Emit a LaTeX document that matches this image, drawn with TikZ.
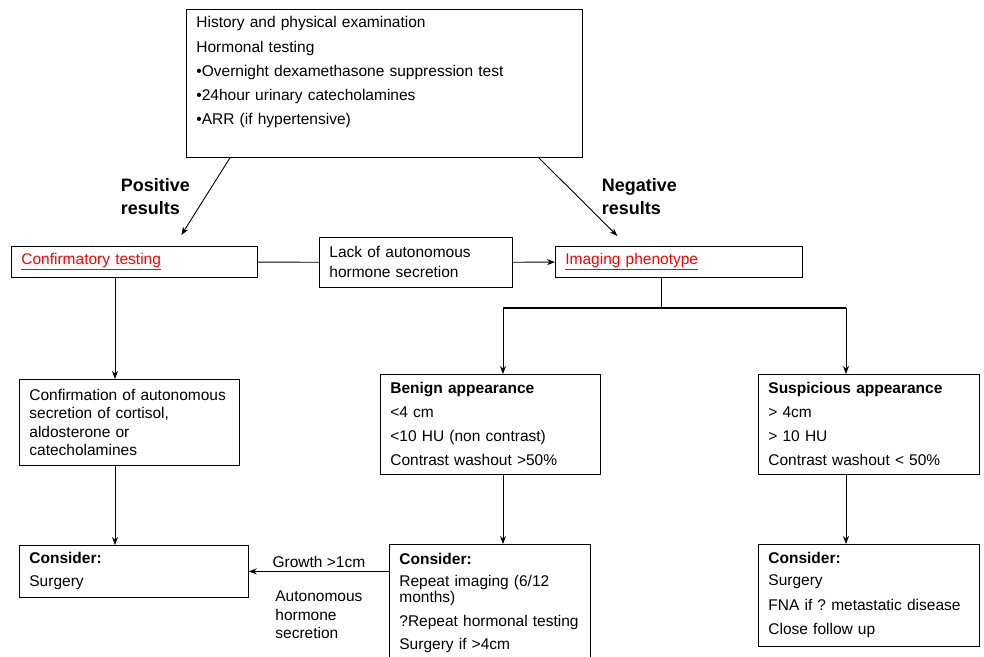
\documentclass[tikz,border=0pt]{standalone}
\usepackage{fontspec}
\setmainfont{Liberation Sans}
\usetikzlibrary{arrows.meta,positioning}

\begin{document}
\begin{tikzpicture}[x=1pt, y=-1pt,
        box/.style={rectangle, draw, line width=0.8pt, anchor=north west, align=left, inner xsep=10pt, inner ysep=2pt, font=\fontsize{15.5}{18.5}\selectfont},
        arrow/.style={->, >={Stealth[length=8pt, width=6pt]}, line width=0.9pt},
        plain/.style={line width=0.9pt},
        heavy/.style={line width=1.5pt},
        lbl/.style={font=\fontsize{15.5}{18.5}\selectfont, align=left},
        reslbl/.style={font=\fontsize{18}{23}\selectfont\bfseries, align=left}
    ]
        \useasboundingbox (0,0) rectangle (984,656);

        % Initial work-up
        \node[box, text width=376pt, minimum width=396pt, minimum height=148pt] (history) at (186,9) {History and physical examination\\[5.75pt] Hormonal testing\\[5.75pt] •Overnight dexamethasone suppression test\\[5.75pt] •24hour urinary catecholamines\\[5.75pt] •ARR (if hypertensive)\par\vspace{7pt}\hbox{}};

        % Second row
        \node[box, text width=226pt, minimum width=246pt, minimum height=31pt] (confirm) at (11,246) {\textcolor{red}{\underline{Confirmatory testing}}};
        \node[box, text width=173pt, minimum width=193pt, minimum height=50pt] (lack) at (319,237) {Lack of autonomous\\[1.5pt] hormone secretion};
        \node[box, text width=227pt, minimum width=247pt, minimum height=31pt] (imaging) at (555,246) {\textcolor{red}{\underline{Imaging phenotype}}};

        % Third row
        \node[box, text width=200pt, minimum width=220pt, minimum height=86pt] (confirmation) at (19,379) {Confirmation of autonomous\\ secretion of cortisol,\\ aldosterone or\\ catecholamines};
        \node[box, text width=200pt, minimum width=220pt, minimum height=100pt] (benign) at (380,374) {\textbf{Benign appearance}\\[5.5pt] <4 cm\\[5.5pt] <10 HU (non contrast)\\[5.5pt] Contrast washout >50\%};
        \node[box, text width=201pt, minimum width=221pt, minimum height=100pt] (suspicious) at (758,374) {\textbf{Suspicious appearance}\\[5.5pt] > 4cm\\[5.5pt] > 10 HU\\[5.5pt] Contrast washout < 50\%};

        % Bottom row
        \node[box, text width=209pt, minimum width=229pt, minimum height=52pt] (leftconsider) at (19,545) {\textbf{Consider:}\\[4.5pt] Surgery};
        \node[box, text width=181pt, minimum width=201pt, minimum height=117pt] (midconsider) at (389,544) {\textbf{Consider:}\\[3.5pt] Repeat imaging (6/12\\[-2.5pt] months)\\[5.5pt] ?Repeat hormonal testing\\[4.5pt] Surgery if >4cm};
        \node[box, text width=201pt, minimum width=221pt, minimum height=102pt] (rightconsider) at (758,544) {\textbf{Consider:}\\[3.5pt] Surgery\\[6.5pt] FNA if ?\ metastatic disease\\[5.5pt] Close follow up};

        % Columns of the connectors
        \coordinate (lcol) at (115,0);
        \coordinate (split) at (661,308);
        \coordinate (lbranch) at (503,308);
        \coordinate (rbranch) at (846,308);

        % Connections
        \draw[arrow] ([xshift=44pt]history.south west) -- node[reslbl, left, xshift=-12pt] {Positive\\results} ([xshift=47pt, yshift=11pt]confirm.north);
        \draw[arrow] ([xshift=-44pt]history.south east) -- node[reslbl, right, xshift=20pt] {Negative\\results} ([xshift=-61.5pt, yshift=10pt]imaging.north);
        \draw[plain] (confirm) -- (lack);
        \draw[arrow] (lack) -- (imaging);
        \draw[arrow] (confirm.south -| lcol) -- (confirmation.north -| lcol);
        \draw[arrow] (confirmation.south -| lcol) -- (leftconsider.north -| lcol);
        \draw[plain] (imaging.south -| split) -- (split);
        \draw[heavy] (lbranch) -- (rbranch);
        \draw[arrow] (lbranch) -- (benign.north -| lbranch);
        \draw[arrow] (rbranch) -- (suspicious.north -| rbranch);
        \draw[arrow] (benign.south -| lbranch) -- (midconsider.north -| lbranch);
        \draw[arrow] (suspicious.south -| rbranch) -- (rightconsider.north -| rbranch);
        \draw[arrow] (midconsider.west |- leftconsider) -- node[lbl, above] {Growth >1cm} node[lbl, below, yshift=-16pt] {Autonomous\\hormone\\secretion} (leftconsider);

    \end{tikzpicture}
\end{document}
